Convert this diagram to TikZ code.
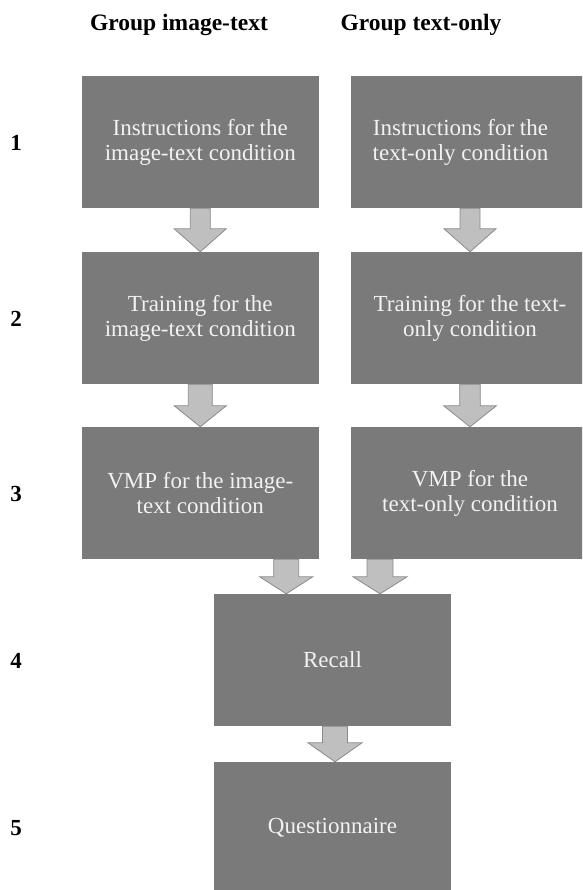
\documentclass[tikz,border=0pt]{standalone}
\usepackage{fontspec}
\setmainfont{Liberation Serif}
\usetikzlibrary{calc}
\definecolor{boxgray}{HTML}{7A7A7A}
\definecolor{arrfill}{HTML}{BFBFBF}
\definecolor{arredge}{HTML}{8A8A8A}
\definecolor{boxtext}{HTML}{F2F2F2}
% block arrow: #1 start, #2 end, #3 half shaft, #4 half head, #5 head length
\newcommand\blockarrow[5]{%
  \draw[arr] let \p1=#1, \p2=#2 in
    (\x1-#3pt,\y1) -- (\x1-#3pt,\y2+#5pt) -- (\x1-#4pt,\y2+#5pt) -- (\x1,\y2)
    -- (\x1+#4pt,\y2+#5pt) -- (\x1+#3pt,\y2+#5pt) -- (\x1+#3pt,\y1) -- cycle;}
\begin{document}
\begin{tikzpicture}[x=1pt,y=-1pt,
  box/.style={rectangle, fill=boxgray, minimum width=237.5pt, minimum height=132pt,
    inner sep=0pt, text=boxtext, font=\fontsize{23}{25}\selectfont, align=center},
  boxlabel/.style={text=boxtext, font=\fontsize{23}{25}\selectfont, align=center, inner sep=0pt},
  head/.style={font=\bfseries\fontsize{23.5}{26}\selectfont, anchor=base, inner sep=0pt},
  num/.style={font=\bfseries\fontsize{23}{26}\selectfont, inner sep=0pt},
  arr/.style={fill=arrfill, draw=arredge, line width=0.8pt, line join=miter}]
\useasboundingbox (0,0) rectangle (582,890);
\clip (0,0) rectangle (582,890);

% headers
\node[head] (hL) at (179,31) {Group image-text};
\node[head] (hR) at (421,31) {Group text-only};

% row numbers
\node[num] (n1) at (16,143) {1};
\node[num] (n2) at (16,319) {2};
\node[num] (n3) at (16,494) {3};
\node[num] (n4) at (16,661) {4};
\node[num] (n5) at (16,828) {5};

% boxes
\node[box] (L1) at (200.25,142) {Instructions for the\\image-text condition};
\node[box] (R1) at (470,142) {};
\node[boxlabel] (R1t) at (460.5,142) {Instructions for the\\text-only condition};
\node[box] (L2) at (200.25,318) {Training for the\\image-text condition};
\node[box] (R2) at (470,318) {Training for the text-\\only condition};
\node[box] (L3) at (200.25,493) {VMP for the image-\\text condition};
\node[box] (R3) at (470,493) {VMP for the\\text-only condition};
\node[box, minimum width=237pt] (Rc) at (332.5,660) {Recall};
\node[box, minimum width=237pt] (Q) at (332.5,828) {Questionnaire};

% arrows
\blockarrow{(L1.south)}{(L2.north)}{10}{26}{23}
\blockarrow{(R1.south)}{(R2.north)}{10}{26}{23}
\blockarrow{(L2.south)}{(L3.north)}{12}{26}{21}
\blockarrow{(R2.south)}{(R3.north)}{10.3}{26.3}{21}
\blockarrow{($(L3.south east)+(-33,0)$)}{(Rc.north)}{12.5}{26.5}{17}
\blockarrow{($(R3.south west)+(29,0)$)}{(Rc.north)}{13}{27}{17}
\blockarrow{($(Rc.south)+(2.5,0)$)}{(Q.north)}{12.5}{27}{19}
\end{tikzpicture}
\end{document}
